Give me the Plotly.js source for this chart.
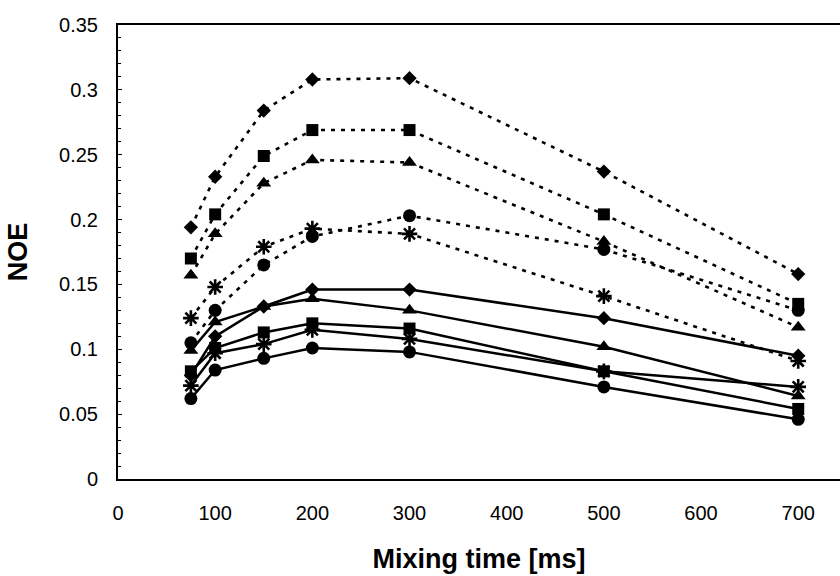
<!DOCTYPE html>
<html>
<head>
<meta charset="utf-8">
<script src="https://cdn.plot.ly/plotly-3.0.1.min.js"></script>
<style>html,body{margin:0;padding:0;background:#fff;}#chart{width:840px;height:576px;}</style>
</head>
<body>
<div id="chart"></div>
<script>
// Mixing times (ms)
const mixingTime = [75, 100, 150, 200, 300, 500, 700];

// Dotted-line series
const dotDiamond  = [0.194, 0.233, 0.284, 0.308, 0.309, 0.237, 0.158];
const dotSquare   = [0.170, 0.204, 0.249, 0.269, 0.269, 0.204, 0.135];
const dotTriangle = [0.157, 0.189, 0.228, 0.246, 0.244, 0.183, 0.117];
const dotCircle   = [0.105, 0.130, 0.165, 0.187, 0.203, 0.177, 0.130];
const dotStar     = [0.124, 0.148, 0.179, 0.193, 0.189, 0.141, 0.091];

// Solid-line series
const solDiamond  = [0.080, 0.110, 0.133, 0.146, 0.146, 0.124, 0.095];
const solTriangle = [0.099, 0.121, 0.133, 0.139, 0.130, 0.102, 0.064];
const solSquare   = [0.083, 0.101, 0.113, 0.120, 0.116, 0.083, 0.054];
const solStar     = [0.072, 0.097, 0.104, 0.115, 0.108, 0.083, 0.071];
const solCircle   = [0.062, 0.084, 0.093, 0.101, 0.098, 0.071, 0.046];

const xTickVals = [0, 100, 200, 300, 400, 500, 600, 700];
const yTickVals = [0, 0.05, 0.1, 0.15, 0.2, 0.25, 0.3, 0.35];

function markerFor(sym) {
  if (sym === 'diamond') return {symbol: 'diamond', size: 11, color: '#000'};
  if (sym === 'square') return {symbol: 'square', size: 12, color: '#000'};
  if (sym === 'triangle-up') return {symbol: 'triangle-up', size: 13, color: '#000'};
  if (sym === 'circle') return {symbol: 'circle', size: 13, color: '#000'};
  return {symbol: 'asterisk-open', size: 13, color: '#000', line: {color: '#000', width: 2.6}};
}

function series(name, y, sym, dotted) {
  return {
    type: 'scatter', mode: 'lines+markers', name: name,
    x: mixingTime, y: y,
    line: dotted ? {color: '#000', width: 2.6, dash: '4px,6px'} : {color: '#000', width: 2.5},
    marker: markerFor(sym),
    cliponaxis: false
  };
}

const data = [
  series('dotted diamond', dotDiamond, 'diamond', true),
  series('dotted square', dotSquare, 'square', true),
  series('dotted triangle', dotTriangle, 'triangle-up', true),
  series('dotted circle', dotCircle, 'circle', true),
  series('dotted star', dotStar, 'asterisk', true),
  series('solid diamond', solDiamond, 'diamond', false),
  series('solid triangle', solTriangle, 'triangle-up', false),
  series('solid square', solSquare, 'square', false),
  series('solid star', solStar, 'asterisk', false),
  series('solid circle', solCircle, 'circle', false)
];

const tickFont = {family: 'Liberation Sans, Arial, sans-serif', size: 20, color: '#000'};
const titleFont = {family: 'Liberation Sans, Arial, sans-serif', size: 27, color: '#000', weight: 'bold'};

const layout = {
  width: 840, height: 576,
  margin: {l: 118, r: 0, t: 25, b: 97},
  paper_bgcolor: '#fff', plot_bgcolor: '#fff',
  showlegend: false,
  xaxis: {
    range: [0, 743], tickmode: 'array', tickvals: xTickVals,
    showgrid: false, zeroline: false,
    showline: true, linecolor: '#000', linewidth: 2, mirror: true,
    ticks: '', tickfont: tickFont, ticklabelstandoff: 15,
    title: {text: '<b>Mixing time [ms]</b>', font: titleFont, standoff: 26}
  },
  yaxis: {
    range: [0, 0.35], tickmode: 'array', tickvals: yTickVals,
    showgrid: false, zeroline: false,
    showline: true, linecolor: '#000', linewidth: 2,
    ticks: 'inside', ticklen: 4, tickcolor: '#000', tickwidth: 1,
    minor: {dtick: 0.01, ticks: 'inside', ticklen: 3, tickcolor: '#000', tickwidth: 1, showgrid: false},
    tickfont: tickFont, ticklabelstandoff: 14,
    title: {text: '<b>NOE</b>', font: titleFont, standoff: 24}
  }
};

Plotly.newPlot('chart', data, layout, {staticPlot: true, displayModeBar: false});
</script>
</body>
</html>
